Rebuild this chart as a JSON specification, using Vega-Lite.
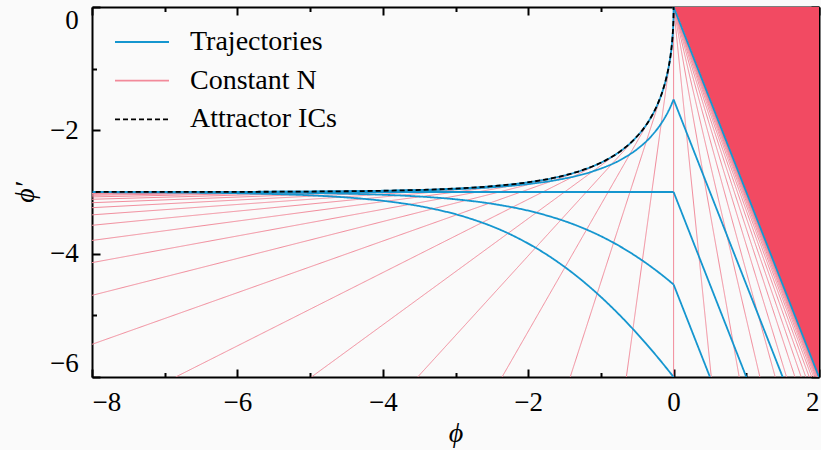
{
  "$schema": "https://vega.github.io/schema/vega-lite/v6.json",
  "width": 727,
  "height": 370,
  "autosize": {"type": "none"},
  "padding": {"left": 92, "top": 7, "right": 2, "bottom": 73},
  "background": "#fafafa",
  "config": {
    "view": {"stroke": null},
    "font": "Liberation Serif",
    "axis": {
      "grid": false, "domainColor": "black", "domainWidth": 2, "tickColor": "black", "tickWidth": 2,
      "labelFont": "Liberation Serif", "labelFontSize": 27, "labelColor": "black", "labelOverlap": false,
      "titleFont": "Liberation Serif", "titleFontSize": 28, "titleFontWeight": "normal", "titleFontStyle": "italic",
      "titleColor": "black", "zindex": 1, "labelFlush": true
    },
    "legend": {
      "orient": "top-left", "offset": 22, "padding": 0, "title": null,
      "symbolType": "stroke", "symbolSize": 2916, "symbolStrokeWidth": 1.8, "clipHeight": 26, "rowPadding": 10.7,
      "labelFont": "Liberation Serif", "labelFontSize": 28, "labelColor": "black", "labelOffset": 20
    }
  },
  "datasets": {
    "region": [{"phi": 0, "lo": 0, "hi": 0}, {"phi": 2, "lo": -6, "hi": 0}],
    "traj": [
      {"id": "s1", "phi": 2, "dphi": -6}, {"id": "s1", "phi": 0, "dphi": 0},
      {"id": "t1", "phi": 0, "dphi": 0},
      {"id": "t1", "phi": -0.000199, "dphi": -0.0594}, {"id": "t1", "phi": -0.00123, "dphi": -0.1463},
      {"id": "t1", "phi": -0.00484, "dphi": -0.2855}, {"id": "t1", "phi": -0.010708, "dphi": -0.4179},
      {"id": "t1", "phi": -0.0187, "dphi": -0.544}, {"id": "t1", "phi": -0.0288, "dphi": -0.6636},
      {"id": "t1", "phi": -0.040818, "dphi": -0.777545}, {"id": "t1", "phi": -0.07032, "dphi": -0.98904},
      {"id": "t1", "phi": -0.1065, "dphi": -1.1804}, {"id": "t1", "phi": -0.148812, "dphi": -1.353565},
      {"id": "t1", "phi": -0.222367, "dphi": -1.5829}, {"id": "t1", "phi": -0.30657, "dphi": -1.78029},
      {"id": "t1", "phi": -0.367879, "dphi": -1.896362}, {"id": "t1", "phi": -0.536505, "dphi": -2.140486},
      {"id": "t1", "phi": -0.72313, "dphi": -2.33061}, {"id": "t1", "phi": -0.923774, "dphi": -2.478678},
      {"id": "t1", "phi": -1.135335, "dphi": -2.593994}, {"id": "t1", "phi": -1.582085, "dphi": -2.753745},
      {"id": "t1", "phi": -2.049787, "dphi": -2.850639}, {"id": "t1", "phi": -2.530197, "dphi": -2.909409},
      {"id": "t1", "phi": -3.018316, "dphi": -2.945052}, {"id": "t1", "phi": -4.006738, "dphi": -2.979786},
      {"id": "t1", "phi": -5.002479, "dphi": -2.992563}, {"id": "t1", "phi": -6.000912, "dphi": -2.997264},
      {"id": "t1", "phi": -7.000335, "dphi": -2.998994}, {"id": "t1", "phi": -8.5, "dphi": -2.99978},
      {"id": "s2", "phi": 1.5, "dphi": -6}, {"id": "s2", "phi": 0, "dphi": -1.5},
      {"id": "t2", "phi": 0, "dphi": -1.5},
      {"id": "t2", "phi": -0.052418, "dphi": -1.642744}, {"id": "t2", "phi": -0.109365, "dphi": -1.771904},
      {"id": "t2", "phi": -0.170409, "dphi": -1.888773}, {"id": "t2", "phi": -0.303265, "dphi": -2.090204},
      {"id": "t2", "phi": -0.486183, "dphi": -2.29145}, {"id": "t2", "phi": -0.68394, "dphi": -2.448181},
      {"id": "t2", "phi": -1.111565, "dphi": -2.665305}, {"id": "t2", "phi": -1.567668, "dphi": -2.796997},
      {"id": "t2", "phi": -2.041042, "dphi": -2.876872}, {"id": "t2", "phi": -2.524894, "dphi": -2.925319},
      {"id": "t2", "phi": -3.015098, "dphi": -2.954704}, {"id": "t2", "phi": -3.509158, "dphi": -2.972526},
      {"id": "t2", "phi": -4.503369, "dphi": -2.989893}, {"id": "t2", "phi": -5.50124, "dphi": -2.996282},
      {"id": "t2", "phi": -6.500456, "dphi": -2.998632}, {"id": "t2", "phi": -7.500168, "dphi": -2.999497},
      {"id": "t2", "phi": -8.500062, "dphi": -2.999815},
      {"id": "s3", "phi": 1, "dphi": -6}, {"id": "s3", "phi": 0, "dphi": -3},
      {"id": "t3", "phi": 0, "dphi": -3}, {"id": "t3", "phi": -8.5, "dphi": -3},
      {"id": "s4", "phi": 0.5, "dphi": -6}, {"id": "s4", "phi": 0, "dphi": -4.5},
      {"id": "t4", "phi": 0, "dphi": -4.5},
      {"id": "t4", "phi": -0.147582, "dphi": -4.357256}, {"id": "t4", "phi": -0.290635, "dphi": -4.228096},
      {"id": "t4", "phi": -0.429591, "dphi": -4.111227}, {"id": "t4", "phi": -0.696735, "dphi": -3.909796},
      {"id": "t4", "phi": -1.013817, "dphi": -3.70855}, {"id": "t4", "phi": -1.31606, "dphi": -3.551819},
      {"id": "t4", "phi": -1.888435, "dphi": -3.334695}, {"id": "t4", "phi": -2.432332, "dphi": -3.203003},
      {"id": "t4", "phi": -2.958958, "dphi": -3.123128}, {"id": "t4", "phi": -3.475106, "dphi": -3.074681},
      {"id": "t4", "phi": -3.984902, "dphi": -3.045296}, {"id": "t4", "phi": -4.490842, "dphi": -3.027474},
      {"id": "t4", "phi": -5.496631, "dphi": -3.010107}, {"id": "t4", "phi": -6.49876, "dphi": -3.003718},
      {"id": "t4", "phi": -7.499544, "dphi": -3.001368}, {"id": "t4", "phi": -8.499832, "dphi": -3.000503},
      {"id": "t5", "phi": 0, "dphi": -6},
      {"id": "t5", "phi": -0.195163, "dphi": -5.714512}, {"id": "t5", "phi": -0.381269, "dphi": -5.456193},
      {"id": "t5", "phi": -0.559182, "dphi": -5.222455}, {"id": "t5", "phi": -0.893469, "dphi": -4.819592},
      {"id": "t5", "phi": -1.277633, "dphi": -4.4171}, {"id": "t5", "phi": -1.632121, "dphi": -4.103638},
      {"id": "t5", "phi": -2.27687, "dphi": -3.66939}, {"id": "t5", "phi": -2.864665, "dphi": -3.406006},
      {"id": "t5", "phi": -3.417915, "dphi": -3.246255}, {"id": "t5", "phi": -3.950213, "dphi": -3.149361},
      {"id": "t5", "phi": -4.469803, "dphi": -3.090591}, {"id": "t5", "phi": -4.981684, "dphi": -3.054948},
      {"id": "t5", "phi": -5.993262, "dphi": -3.020214}, {"id": "t5", "phi": -6.997521, "dphi": -3.007437},
      {"id": "t5", "phi": -7.999088, "dphi": -3.002736}, {"id": "t5", "phi": -8.999665, "dphi": -3.001006}
    ],
    "attr": [
      {"phi": 0, "dphi": 0},
      {"phi": -0.000199, "dphi": -0.0594}, {"phi": -0.00123, "dphi": -0.1463},
      {"phi": -0.00484, "dphi": -0.2855}, {"phi": -0.010708, "dphi": -0.4179},
      {"phi": -0.0187, "dphi": -0.544}, {"phi": -0.0288, "dphi": -0.6636},
      {"phi": -0.040818, "dphi": -0.777545}, {"phi": -0.07032, "dphi": -0.98904},
      {"phi": -0.1065, "dphi": -1.1804}, {"phi": -0.148812, "dphi": -1.353565},
      {"phi": -0.222367, "dphi": -1.5829}, {"phi": -0.30657, "dphi": -1.78029},
      {"phi": -0.367879, "dphi": -1.896362}, {"phi": -0.536505, "dphi": -2.140486},
      {"phi": -0.72313, "dphi": -2.33061}, {"phi": -0.923774, "dphi": -2.478678},
      {"phi": -1.135335, "dphi": -2.593994}, {"phi": -1.582085, "dphi": -2.753745},
      {"phi": -2.049787, "dphi": -2.850639}, {"phi": -2.530197, "dphi": -2.909409},
      {"phi": -3.018316, "dphi": -2.945052}, {"phi": -4.006738, "dphi": -2.979786},
      {"phi": -5.002479, "dphi": -2.992563}, {"phi": -6.000912, "dphi": -2.997264},
      {"phi": -7.000335, "dphi": -2.998994}, {"phi": -8.5, "dphi": -2.99978}
    ],
    "nneg": [
      {"id": "n1", "phi": -0.04082, "dphi": -0.77755}, {"id": "n1", "phi": -0.64986, "dphi": -6},
      {"id": "n2", "phi": -0.14881, "dphi": -1.35357}, {"id": "n2", "phi": -1.42212, "dphi": -6},
      {"id": "n3", "phi": -0.30657, "dphi": -1.78029}, {"id": "n3", "phi": -2.3596, "dphi": -6},
      {"id": "n4", "phi": -0.50119, "dphi": -2.09643}, {"id": "n4", "phi": -3.52012, "dphi": -6},
      {"id": "n5", "phi": -0.72313, "dphi": -2.33061}, {"id": "n5", "phi": -4.98169, "dphi": -6},
      {"id": "n6", "phi": -0.9653, "dphi": -2.5041}, {"id": "n6", "phi": -6.84965, "dphi": -6},
      {"id": "n7", "phi": -1.22246, "dphi": -2.63262}, {"id": "n7", "phi": -8, "dphi": -5.46998},
      {"id": "n8", "phi": -1.49072, "dphi": -2.72784}, {"id": "n8", "phi": -8, "dphi": -4.67614},
      {"id": "n9", "phi": -1.76721, "dphi": -2.79837}, {"id": "n9", "phi": -8, "dphi": -4.14554},
      {"id": "n10", "phi": -2.04979, "dphi": -2.85064}, {"id": "n10", "phi": -8, "dphi": -3.78594},
      {"id": "n11", "phi": -2.33688, "dphi": -2.88935}, {"id": "n11", "phi": -8, "dphi": -3.53997},
      {"id": "n12", "phi": -2.62732, "dphi": -2.91804}, {"id": "n12", "phi": -8, "dphi": -3.3708},
      {"id": "n13", "phi": -2.92024, "dphi": -2.93928}, {"id": "n13", "phi": -8, "dphi": -3.25413},
      {"id": "n14", "phi": -3.215, "dphi": -2.95501}, {"id": "n14", "phi": -8, "dphi": -3.17355},
      {"id": "n15", "phi": -3.51111, "dphi": -2.96667}, {"id": "n15", "phi": -8, "dphi": -3.11796},
      {"id": "n16", "phi": -3.80823, "dphi": -2.97531}, {"id": "n16", "phi": -8, "dphi": -3.07966},
      {"id": "n17", "phi": -4.1061, "dphi": -2.9817}, {"id": "n17", "phi": -8, "dphi": -3.05336},
      {"id": "n18", "phi": -4.40452, "dphi": -2.98644}, {"id": "n18", "phi": -8, "dphi": -3.03539},
      {"id": "n19", "phi": -4.70335, "dphi": -2.98995}, {"id": "n19", "phi": -8, "dphi": -3.02316},
      {"id": "n20", "phi": -5.00248, "dphi": -2.99256}, {"id": "n20", "phi": -8, "dphi": -3.01491},
      {"id": "n21", "phi": -5.30184, "dphi": -2.99448}, {"id": "n21", "phi": -8, "dphi": -3.00938},
      {"id": "n22", "phi": -5.60136, "dphi": -2.99592}, {"id": "n22", "phi": -8, "dphi": -3.00572},
      {"id": "n23", "phi": -5.90101, "dphi": -2.99697}, {"id": "n23", "phi": -8, "dphi": -3.00333},
      {"id": "n24", "phi": -6.20075, "dphi": -2.99776}, {"id": "n24", "phi": -8, "dphi": -3.00179},
      {"id": "n25", "phi": -6.50055, "dphi": -2.99834}, {"id": "n25", "phi": -8, "dphi": -3.00083},
      {"id": "n26", "phi": -6.80041, "dphi": -2.99877}, {"id": "n26", "phi": -8, "dphi": -3.00025}
    ],
    "npos": [
      {"id": "p0", "phi": 0, "dphi": 0}, {"id": "p0", "phi": 0, "dphi": -6},
      {"id": "p1", "phi": 0, "dphi": 0}, {"id": "p1", "phi": 0.51836, "dphi": -6},
      {"id": "p2", "phi": 0, "dphi": 0}, {"id": "p2", "phi": 0.90238, "dphi": -6},
      {"id": "p3", "phi": 0, "dphi": 0}, {"id": "p3", "phi": 1.18686, "dphi": -6},
      {"id": "p4", "phi": 0, "dphi": 0}, {"id": "p4", "phi": 1.39762, "dphi": -6},
      {"id": "p5", "phi": 0, "dphi": 0}, {"id": "p5", "phi": 1.55374, "dphi": -6},
      {"id": "p6", "phi": 0, "dphi": 0}, {"id": "p6", "phi": 1.6694, "dphi": -6},
      {"id": "p7", "phi": 0, "dphi": 0}, {"id": "p7", "phi": 1.75508, "dphi": -6},
      {"id": "p8", "phi": 0, "dphi": 0}, {"id": "p8", "phi": 1.81856, "dphi": -6},
      {"id": "p9", "phi": 0, "dphi": 0}, {"id": "p9", "phi": 1.86558, "dphi": -6},
      {"id": "p10", "phi": 0, "dphi": 0}, {"id": "p10", "phi": 1.90042, "dphi": -6},
      {"id": "p11", "phi": 0, "dphi": 0}, {"id": "p11", "phi": 1.92624, "dphi": -6},
      {"id": "p12", "phi": 0, "dphi": 0}, {"id": "p12", "phi": 1.94536, "dphi": -6},
      {"id": "p13", "phi": 0, "dphi": 0}, {"id": "p13", "phi": 1.95952, "dphi": -6},
      {"id": "p14", "phi": 0, "dphi": 0}, {"id": "p14", "phi": 1.97, "dphi": -6},
      {"id": "p15", "phi": 0, "dphi": 0}, {"id": "p15", "phi": 1.97778, "dphi": -6},
      {"id": "p16", "phi": 0, "dphi": 0}, {"id": "p16", "phi": 1.98354, "dphi": -6},
      {"id": "p17", "phi": 0, "dphi": 0}, {"id": "p17", "phi": 1.9878, "dphi": -6},
      {"id": "p18", "phi": 0, "dphi": 0}, {"id": "p18", "phi": 1.99096, "dphi": -6},
      {"id": "p19", "phi": 0, "dphi": 0}, {"id": "p19", "phi": 1.9933, "dphi": -6},
      {"id": "p20", "phi": 0, "dphi": 0}, {"id": "p20", "phi": 1.99504, "dphi": -6},
      {"id": "p21", "phi": 0, "dphi": 0}, {"id": "p21", "phi": 1.99632, "dphi": -6},
      {"id": "p22", "phi": 0, "dphi": 0}, {"id": "p22", "phi": 1.99728, "dphi": -6}
    ]
  },
  "layer": [
    {
      "data": {"name": "region"},
      "mark": {"type": "area", "color": "#f24a62", "clip": true},
      "encoding": {
        "x": {"field": "phi", "type": "quantitative",
          "scale": {"domain": [-8, 2], "nice": false, "zero": false},
          "axis": {"orient": "bottom", "title": "ϕ", "values": [-8, -6, -4, -2, 0, 2],
            "tickSize": -8, "labelPadding": 20, "titlePadding": 4}},
        "y": {"field": "lo", "type": "quantitative",
          "scale": {"domain": [-6, 0], "nice": false, "zero": false},
          "axis": {"orient": "left", "title": "ϕ′", "values": [-6, -4, -2, 0],
            "tickSize": -8, "labelPadding": 21.7, "titlePadding": 10}},
        "y2": {"field": "hi"}
      }
    },
    {
      "data": {"name": "nneg"},
      "mark": {"type": "line", "clip": true, "strokeWidth": 1},
      "encoding": {
        "x": {"field": "phi", "type": "quantitative",
          "axis": {"orient": "top", "title": null, "labels": false, "values": [-8, -6, -4, -2, 0, 2], "tickSize": -8}},
        "y": {"field": "dphi", "type": "quantitative",
          "axis": {"orient": "right", "title": null, "labels": false, "values": [-6, -4, -2, 0], "tickSize": -8}},
        "detail": {"field": "id"},
        "color": {"datum": "Constant N", "type": "nominal",
          "scale": {"domain": ["Trajectories", "Constant N", "Attractor ICs"], "range": ["#1596cf", "#f28a9a", "#000000"]}},
        "strokeDash": {"datum": "Constant N", "type": "nominal",
          "scale": {"domain": ["Trajectories", "Constant N", "Attractor ICs"], "range": [[1, 0], [1, 0], [5, 3]]}}
      }
    },
    {
      "data": {"name": "npos"},
      "mark": {"type": "line", "clip": true, "strokeWidth": 1},
      "encoding": {
        "x": {"field": "phi", "type": "quantitative",
          "axis": {"orient": "bottom", "title": null, "labels": false, "domain": false, "values": [-7, -5, -3, -1, 1], "tickSize": -4.5}},
        "y": {"field": "dphi", "type": "quantitative",
          "axis": {"orient": "left", "title": null, "labels": false, "domain": false, "values": [-5, -3, -1], "tickSize": -4.5}},
        "detail": {"field": "id"},
        "color": {"datum": "Constant N", "type": "nominal"},
        "strokeDash": {"datum": "Constant N", "type": "nominal"}
      }
    },
    {
      "data": {"name": "traj"},
      "mark": {"type": "line", "clip": true, "strokeWidth": 1.8, "interpolate": "monotone"},
      "encoding": {
        "x": {"field": "phi", "type": "quantitative",
          "axis": {"orient": "top", "title": null, "labels": false, "domain": false, "values": [-7, -5, -3, -1, 1], "tickSize": -4.5}},
        "y": {"field": "dphi", "type": "quantitative",
          "axis": {"orient": "right", "title": null, "labels": false, "domain": false, "values": [-5, -3, -1], "tickSize": -4.5}},
        "detail": {"field": "id"},
        "color": {"datum": "Trajectories", "type": "nominal"},
        "strokeDash": {"datum": "Trajectories", "type": "nominal"}
      }
    },
    {
      "data": {"name": "attr"},
      "mark": {"type": "line", "clip": true, "strokeWidth": 1.8, "interpolate": "monotone"},
      "encoding": {
        "x": {"field": "phi", "type": "quantitative", "axis": null},
        "y": {"field": "dphi", "type": "quantitative", "axis": null},
        "color": {"datum": "Attractor ICs", "type": "nominal"},
        "strokeDash": {"datum": "Attractor ICs", "type": "nominal"}
      }
    }
  ],
  "resolve": {"axis": {"x": "independent", "y": "independent"}}
}
